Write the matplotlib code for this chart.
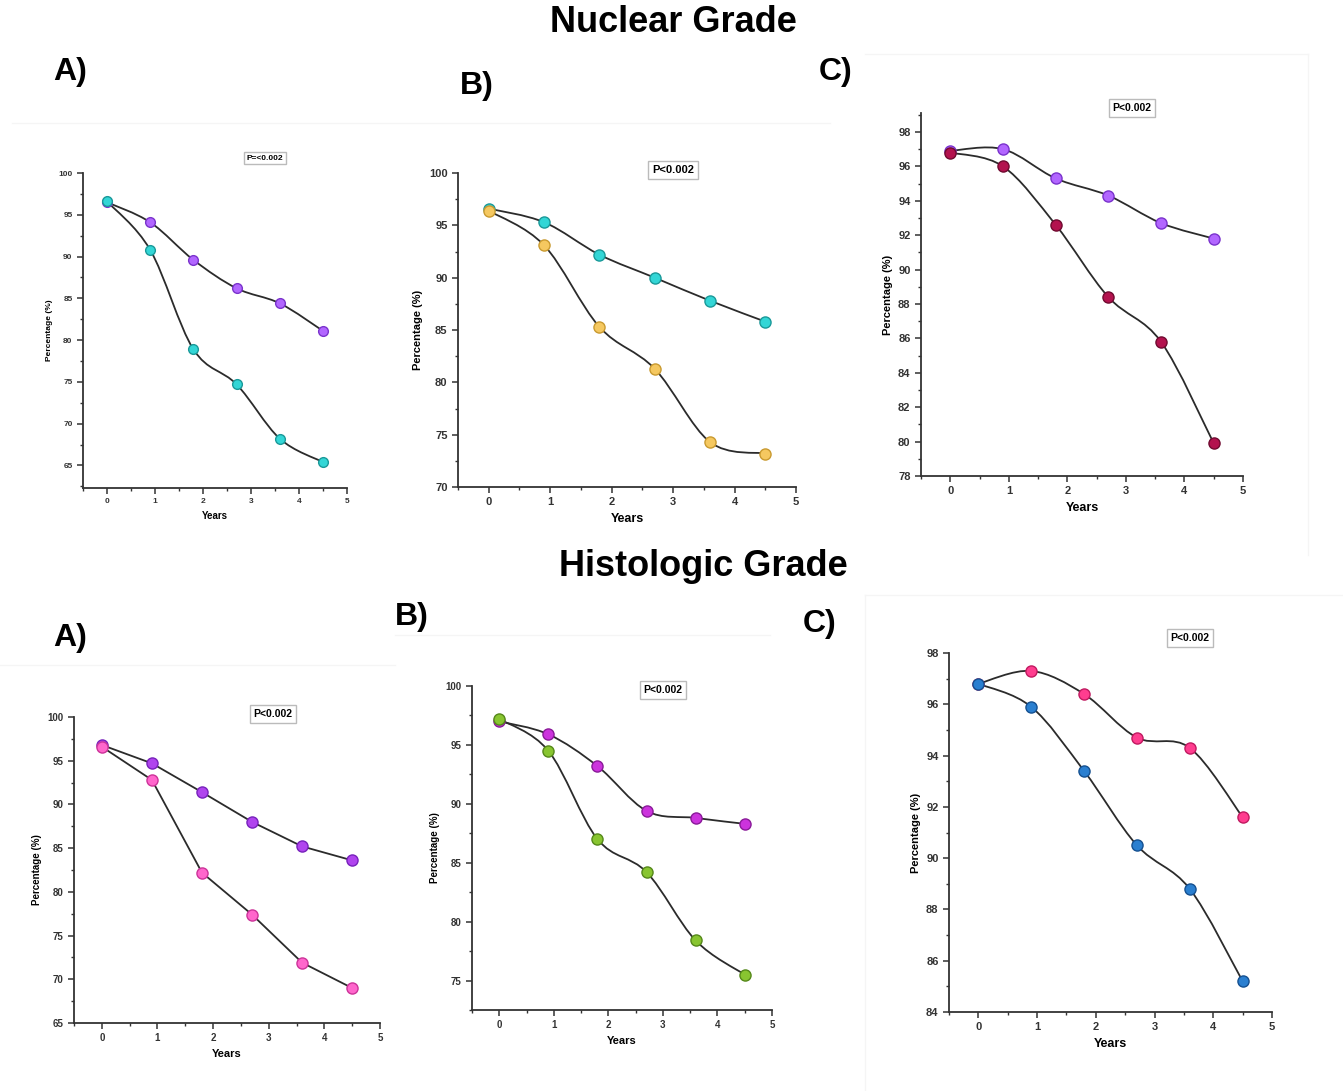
import numpy as np
import matplotlib
matplotlib.use("Agg")
import matplotlib.pyplot as plt
from matplotlib.path import Path
from matplotlib.patches import PathPatch
from matplotlib.lines import Line2D
from matplotlib.ticker import MultipleLocator

plt.rcParams['font.family'] = ['Liberation Sans', 'DejaVu Sans']
plt.rcParams['font.weight'] = 'bold'

# ---- data ----
years = [0, 0.9, 1.8, 2.7, 3.6, 4.5]

# Nuclear grade
nuc_a_upper = [96.5, 94.1, 89.6, 86.2, 84.4, 81.1]
nuc_a_lower = [96.6, 90.8, 78.9, 74.7, 68.2, 65.4]
nuc_b_upper = [96.6, 95.3, 92.2, 90.0, 87.8, 85.8]
nuc_b_lower = [96.4, 93.1, 85.3, 81.3, 74.3, 73.2]
nuc_c_upper = [96.9, 97.0, 95.3, 94.3, 92.7, 91.8]
nuc_c_lower = [96.8, 96.0, 92.6, 88.4, 85.8, 79.9]

# Histologic grade
his_a_upper = [96.8, 94.7, 91.4, 88.0, 85.2, 83.6]
his_a_lower = [96.6, 92.8, 82.2, 77.4, 71.9, 69.0]
his_b_upper = [97.0, 95.9, 93.2, 89.4, 88.8, 88.3]
his_b_lower = [97.2, 94.5, 87.0, 84.2, 78.4, 75.5]
his_c_upper = [96.8, 97.3, 96.4, 94.7, 94.3, 91.6]
his_c_lower = [96.8, 95.9, 93.4, 90.5, 88.8, 85.2]

W, H = 1343, 1091
fig = plt.figure(figsize=(W / 100, H / 100), dpi=100)


def px_axes(l, t, r, b):
    return fig.add_axes([l / W, 1 - b / H, (r - l) / W, (b - t) / H])


def smooth_line(ax, x, y, smooth=True):
    # Catmull-Rom through the points, drawn as cubic Bezier segments
    pts = np.column_stack([x, y]).astype(float)
    if not smooth:
        ax.plot(x, y, color='#2b2b2b', lw=1.3, zorder=2)
        return
    ext = np.vstack([pts[0], pts, pts[-1]])
    verts = [tuple(pts[0])]
    codes = [Path.MOVETO]
    for i in range(1, len(ext) - 2):
        p0, p1, p2, p3 = ext[i - 1], ext[i], ext[i + 1], ext[i + 2]
        c1 = p1 + (p2 - p0) / 6
        c2 = p2 - (p3 - p1) / 6
        verts += [tuple(c1), tuple(c2), tuple(p2)]
        codes += [Path.CURVE4] * 3
    ax.add_patch(PathPatch(Path(verts, codes), fill=False, ec='#2b2b2b', lw=1.3, zorder=2))


def panel(rect, ylim, ymajor, yminor, series, fs, smooth=True, ms=8):
    ax = px_axes(*rect)
    for yv, col, edge in series:
        smooth_line(ax, years, yv, smooth)
        ax.plot(years, yv, 'o', color=col, mec=edge, mew=1.0, ms=ms, zorder=3)
    ax.set_xlim(-0.5, 5)
    ax.set_ylim(*ylim)
    ax.xaxis.set_major_locator(MultipleLocator(1))
    ax.xaxis.set_minor_locator(MultipleLocator(0.5))
    ax.yaxis.set_major_locator(MultipleLocator(ymajor))
    ax.yaxis.set_minor_locator(MultipleLocator(yminor))
    for s in ['top', 'right']:
        ax.spines[s].set_visible(False)
    for s in ['left', 'bottom']:
        ax.spines[s].set_linewidth(1.3)
        ax.spines[s].set_color('#333333')
    ax.tick_params(which='major', direction='out', length=4, width=1.1, labelsize=fs, colors='#333333')
    ax.tick_params(which='minor', direction='out', length=2.5, width=1.0, colors='#333333')
    for lab in ax.get_xticklabels() + ax.get_yticklabels():
        lab.set_fontweight('bold')
    ax.set_ylabel('Percentage (%)', fontsize=fs, fontweight='bold')
    ax.set_xlabel('Years', fontsize=fs + 1, fontweight='bold')
    ax.patch.set_alpha(0)
    return ax


def pbox(cx, cy, txt, fs):
    fig.text(cx / W, 1 - cy / H, txt, ha='center', va='center', fontsize=fs, fontweight='bold',
             bbox=dict(boxstyle='square,pad=0.35', fc='white', ec='#bbbbbb', lw=1.0))


def faint(x0, y0, x1, y1):
    # faint edges of the pasted sub-figures
    fig.add_artist(Line2D([x0 / W, x1 / W], [1 - y0 / H, 1 - y1 / H], color='#f5f5f5', lw=1.0, zorder=0))


faint(12, 123, 830, 123)
faint(865, 54, 1308, 54)
faint(1308, 54, 1308, 555)
faint(0, 665, 395, 665)
faint(395, 635, 770, 635)
faint(865, 595, 1343, 595)
faint(865, 595, 865, 1091)

# ---- Nuclear grade row ----
panel((83, 173, 347, 488), (62.3, 100), 5, 2.5,
      [(nuc_a_upper, '#b266ff', '#7a33cc'), (nuc_a_lower, '#33d6d6', '#1a9999')], 6, ms=7)
panel((458, 173, 796, 487), (70, 100), 5, 2.5,
      [(nuc_b_upper, '#33d6d6', '#1a9999'), (nuc_b_lower, '#f5c860', '#c99a30')], 8, ms=8)
panel((921, 113, 1243, 476), (78, 99.1), 2, 1,
      [(nuc_c_upper, '#b266ff', '#7a33cc'), (nuc_c_lower, '#b3124e', '#700a30')], 8, ms=8)

# ---- Histologic grade row ----
panel((74, 717, 380, 1023), (65, 100), 5, 2.5,
      [(his_a_upper, '#b044ee', '#7722bb'), (his_a_lower, '#ff66cc', '#cc3399')], 7, smooth=False, ms=8)
panel((472, 686, 772, 1010), (72.5, 100), 5, 2.5,
      [(his_b_upper, '#cc33dd', '#8a1a99'), (his_b_lower, '#88c530', '#55881a')], 7, ms=8)
panel((949, 653, 1272, 1012), (84, 98), 2, 1,
      [(his_c_upper, '#ff3d8f', '#c01a60'), (his_c_lower, '#2a7fd0', '#155090')], 8, ms=8)

# ---- p-value boxes ----
pbox(265, 158, 'P=<0.002', 6)
pbox(673, 170, 'P<0.002', 8)
pbox(1132, 108, 'P<0.002', 7.5)
pbox(273, 714, 'P<0.002', 7.5)
pbox(663, 690, 'P<0.002', 7.5)
pbox(1190, 638, 'P<0.002', 7.5)

# ---- titles and panel letters ----
fig.text(673 / W, 1 - 23 / H, 'Nuclear Grade', ha='center', va='center', fontsize=26, fontweight='bold')
fig.text(703 / W, 1 - 567 / H, 'Histologic Grade', ha='center', va='center', fontsize=26, fontweight='bold')
for x, y, s in [(70, 72, 'A)'), (477, 86, 'B)'), (836, 72, 'C)'),
                (70, 638, 'A)'), (412, 617, 'B)'), (820, 624, 'C)')]:
    fig.text(x / W, 1 - y / H, s, ha='center', va='center', fontsize=23, fontweight='bold')

fig.savefig('out.png', dpi=100)
